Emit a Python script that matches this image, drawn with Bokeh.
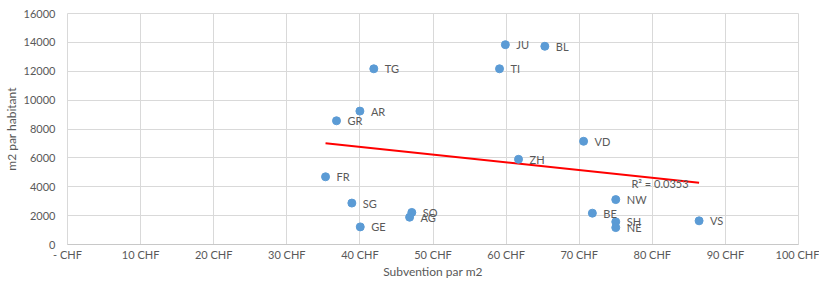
import numpy as np
from bokeh.plotting import figure
from bokeh.models import ColumnDataSource, LabelSet, Label, FixedTicker, Range1d
from bokeh.core.properties import value
from bokeh.embed import file_html
from bokeh.resources import INLINE

cantons = ["JU", "BL", "TG", "TI", "AR", "GR", "VD", "ZH", "FR", "SG",
           "SO", "AG", "GE", "NW", "BE", "SH", "NE", "VS"]
subvention = [59.9, 65.3, 41.9, 59.1, 40.0, 36.8, 70.6, 61.7, 35.3, 38.9,
              47.1, 46.8, 40.05, 75.0, 71.8, 75.0, 75.0, 86.4]
m2_hab = [13840, 13730, 12170, 12170, 9240, 8570, 7150, 5900, 4690, 2870,
          2220, 1890, 1220, 3110, 2170, 1570, 1170, 1640]
x_ticks = [0, 10, 20, 30, 40, 50, 60, 70, 80, 90, 100]
x_tick_labels = ["- CHF", "10 CHF", "20 CHF", "30 CHF", "40 CHF", "50 CHF",
                 "60 CHF", "70 CHF", "80 CHF", "90 CHF", "100 CHF"]
y_ticks = [0, 2000, 4000, 6000, 8000, 10000, 12000, 14000, 16000]
r2_text = "R\u00b2 = 0.0353"

FONT = "Lato"
TXT = "#595959"
GRID = "#D9D9D9"

p = figure(width=819, height=281, output_backend="svg", toolbar_location=None,
           x_range=Range1d(0, 100), y_range=Range1d(0, 16000),
           min_border_left=66, min_border_right=21, min_border_top=13,
           min_border_bottom=30)
p.background_fill_color = "white"
p.border_fill_color = "white"
p.outline_line_color = GRID

# axes
p.xaxis.ticker = FixedTicker(ticks=x_ticks)
p.xaxis.major_label_overrides = {t: l for t, l in zip(x_ticks, x_tick_labels)}
p.yaxis.ticker = FixedTicker(ticks=y_ticks)
p.yaxis.major_label_overrides = {t: str(t) for t in y_ticks}
for ax in (p.xaxis, p.yaxis):
    ax.major_tick_line_color = None
    ax.minor_tick_line_color = None
    ax.major_tick_out = 0
    ax.major_tick_in = 0
    ax.major_label_text_font = FONT
    ax.major_label_text_font_size = "11px"
    ax.major_label_text_color = TXT
    ax.axis_label_text_font = FONT
    ax.axis_label_text_font_size = "12px"
    ax.axis_label_text_font_style = "normal"
    ax.axis_label_text_color = TXT
p.xaxis.axis_line_color = "#C8C8C8"
p.yaxis.axis_line_color = None
p.xaxis.axis_label = "Subvention par m2"
p.yaxis.axis_label = "m2 par habitant"
p.xaxis.major_label_standoff = 3
p.yaxis.major_label_standoff = 12
p.xaxis.axis_label_standoff = 0
p.yaxis.axis_label_standoff = 2
p.grid.grid_line_color = GRID
p.grid.grid_line_width = 1

src = ColumnDataSource(dict(x=subvention, y=m2_hab, name=cantons))

# trend line (least squares on the data)
xs = np.array(subvention)
ys = np.array(m2_hab)
slope, intercept = np.polyfit(xs, ys, 1)
tx = [xs.min(), xs.max()]
ty = [slope * v + intercept for v in tx]
p.line(tx, ty, line_color="#FF0000", line_width=2)

p.scatter("x", "y", source=src, size=8, fill_color="#5B9BD5",
          line_color="#5B9BD5")

labels = LabelSet(x="x", y="y", text="name", source=src, x_offset=11,
                  text_baseline="middle", text_font=value(FONT),
                  text_font_size=value("11px"), text_color=value(TXT))
p.add_layout(labels)

p.add_layout(Label(x=77.15, y=4220, text=r2_text, text_baseline="middle",
                   text_font=FONT, text_font_size="11px", text_color=TXT))

open("out.html", "w").write(file_html(p, INLINE))
